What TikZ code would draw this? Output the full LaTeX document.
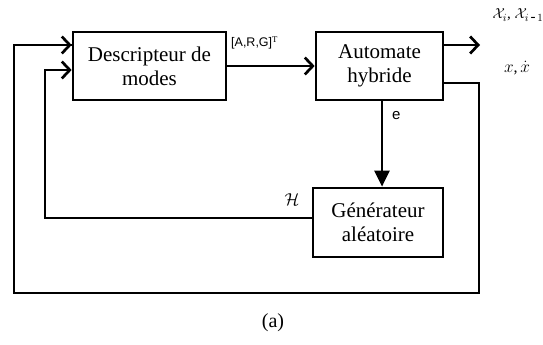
\documentclass[tikz,border=0pt]{standalone}
\usepackage{fontspec}
\setmainfont{Liberation Serif}
\newfontfamily\arialf{Liberation Sans}
\usetikzlibrary{arrows.meta,calc}
\begin{document}
\begin{tikzpicture}[x=1pt,y=-1pt,
  blk/.style={draw,line width=2.7pt,rectangle,align=center,inner sep=0pt,
    font=\fontsize{21}{24}\selectfont},
  wire/.style={line width=2.7pt},
  openarr/.style={wire,-{Straight Barb[length=8pt,width=17pt,line width=2.7pt]}},
  fillarr/.style={wire,-{Triangle[length=16pt,width=15pt]}},
  lbl/.style={inner sep=0pt}]
\useasboundingbox (0,0) rectangle (543,345);
\node[blk,minimum width=153pt,minimum height=68pt] (desc) at (149.5,66) {Descripteur de\\modes};
\node[blk,minimum width=127pt,minimum height=68pt] (auto) at (379.5,66) {Automate\\hybride};
\node[blk,minimum width=130pt,minimum height=69pt] (gen) at (378,222.5) {Générateur\\aléatoire};
% coordinates
\coordinate (in1) at (73,45);
\coordinate (in2) at (73,70);
\coordinate (out) at (480,45);
\coordinate (fb) at (443,83);
\coordinate (fbr) at (479,293);
\coordinate (lo) at (14,293);
\coordinate (li) at (45,218);
\coordinate (ex) at (382,0);
% connectors
\draw[openarr] (desc.east) -- (auto.west);
\draw[openarr] (auto.east |- out) -- (out);
\draw[wire] (fb) -| (fbr) -- (lo) |- (in1);
\draw[openarr] ($(lo)+(0,-248)$) -- (desc.west |- in1);
\draw[wire] (gen.west |- li) -- (li) |- ($(in2)+(-20,0)$);
\draw[openarr] ($(in2)+(-28,0)$) -- (desc.west |- in2);
\draw[fillarr] (auto.south -| ex) -- (gen.north -| ex);
% labels
\node[lbl,font=\arialf\fontsize{12.5}{14}\selectfont,anchor=west] (lab1) at (231,43) {[A,R,G]$^{\mathrm{T}}$};
\node[lbl,font=\arialf\fontsize{15}{17}\selectfont,anchor=west] (lab2) at (392,116) {e};
\node[lbl,font=\fontsize{15}{17}\selectfont] (lab3) at (518,15) {$\mathcal{X}_i$, $\mathcal{X}_{i\,\textit{-}\,1}$};
\node[lbl,font=\fontsize{16}{18}\selectfont] (lab4) at (517,68) {$x$,\,$\dot{x}$};
\node[lbl,font=\fontsize{16}{18}\selectfont] (lab5) at (292,200) {$\mathcal{H}$};
\node[lbl,font=\fontsize{20}{24}\selectfont] (lab6) at (273,323) {(a)};
\end{tikzpicture}
\end{document}
